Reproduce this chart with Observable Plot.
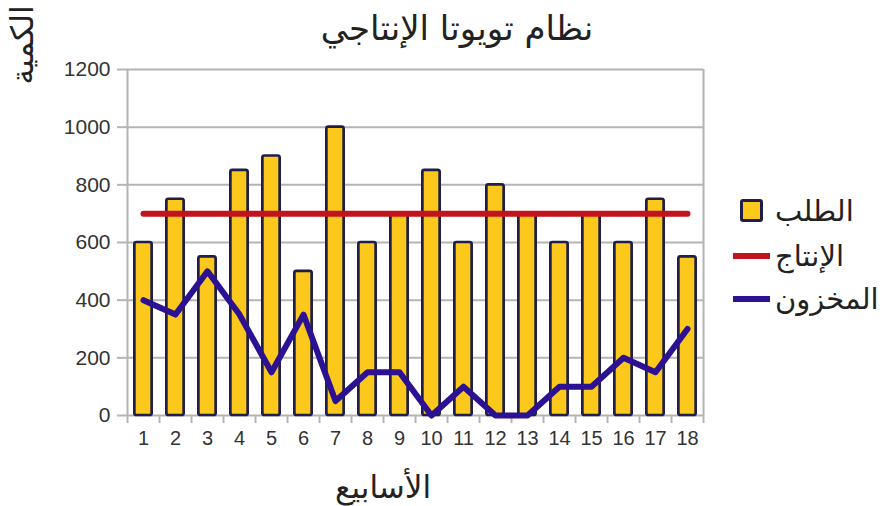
<!DOCTYPE html>
<html><head><meta charset="utf-8">
<script src="https://cdn.jsdelivr.net/npm/d3@7"></script>
<script src="https://cdn.jsdelivr.net/npm/@observablehq/plot@0.6"></script>
<style>
body{margin:0;background:#fff;}
#wrap{position:relative;width:895px;height:506px;font-family:"DejaVu Sans",sans-serif;}
.t{position:absolute;white-space:nowrap;color:#222;transform:translate(-50%,-50%);line-height:1;}
.sw{position:absolute;box-sizing:border-box;}
</style></head><body><div id="wrap"></div>
<script>
const weeks = [1,2,3,4,5,6,7,8,9,10,11,12,13,14,15,16,17,18];
const demand = [600,750,550,850,900,500,1000,600,700,850,600,800,700,600,700,600,750,550];
const production = [700,700,700,700,700,700,700,700,700,700,700,700,700,700,700,700,700,700];
const inventory = [400,350,500,350,150,350,50,150,150,0,100,0,0,100,100,200,150,300];
const yTicks = [0,200,400,600,800,1000,1200];
const seriesNames = ["الطلب","الإنتاج","المخزون"];
const seriesColors = ["#fcc81c","#c3141e","#2c1192"];
const title = "نظام تويوتا الإنتاجي";
const xLabel = "الأسابيع";
const yLabel = "الكمية";

const rows = weeks.map((w,i)=>({week:w,demand:demand[i],production:production[i],inventory:inventory[i]}));
const bounds = weeks.map(w=>w-0.5).concat([weeks[weeks.length-1]+0.5]);
const grey = "#b4b4b4";

const chart = Plot.plot({
  width:895, height:506,
  marginLeft:127, marginRight:192, marginTop:69, marginBottom:91,
  style:{fontFamily:"'Liberation Sans', Arial, sans-serif", fontSize:"21px", color:"#333", background:"transparent"},
  x:{domain:[0.5,18.5]},
  y:{domain:[0,1200]},
  marks:[
    Plot.ruleY(yTicks,{stroke:grey,strokeWidth:2}),
    Plot.ruleX([bounds[0], bounds[bounds.length-1]],{stroke:grey,strokeWidth:2}),
    Plot.axisY(yTicks,{tickSize:10,tickPadding:7,stroke:grey,strokeWidth:2,label:null,fill:"#333",fontSize:21,tickFormat:d=>String(d)}),
    Plot.axisX(bounds,{tickSize:8,stroke:grey,strokeWidth:2,text:null,label:null}),
    Plot.axisX(weeks,{tickSize:0,tickPadding:15,label:null,fill:"#333",fontSize:20,tickFormat:d=>String(d)}),
    Plot.rectY(rows,{x1:d=>d.week-0.27,x2:d=>d.week+0.27,y1:0,y2:"demand",fill:seriesColors[0],stroke:"#1f1e48",strokeWidth:2.7,rx:2}),
    Plot.line(rows,{x:"week",y:"production",stroke:seriesColors[1],strokeWidth:6}),
    Plot.line(rows,{x:"week",y:"inventory",stroke:seriesColors[2],strokeWidth:6,strokeLinejoin:"round"})
  ]
});
const wrap = document.getElementById("wrap");
wrap.appendChild(chart);
chart.style.position="absolute"; chart.style.left="0"; chart.style.top="0";

function addText(txt,x,y,size,extra){
  const d=document.createElement("div");
  d.className="t"; d.textContent=txt; d.dir="rtl";
  d.style.left=x+"px"; d.style.top=y+"px"; d.style.fontSize=size+"px";
  if(extra) d.style.transform=extra;
  wrap.appendChild(d); return d;
}
addText(title,457,28,34);
addText(xLabel,383,487,31);
addText(yLabel,22,45,31,"translate(-50%,-50%) rotate(-90deg)");

// legend
const ly=[211,256,299];
seriesNames.forEach((n,i)=>{
  const t=document.createElement("div");
  t.className="t"; t.textContent=n; t.dir="rtl";
  t.style.transform="translate(0,-50%)";
  t.style.left="775px"; t.style.top=ly[i]+"px"; t.style.fontSize="29px";
  wrap.appendChild(t);
  const s=document.createElement("div"); s.className="sw";
  if(i===0){
    s.style.left="740px"; s.style.top=(ly[i]-12)+"px"; s.style.width="23px"; s.style.height="23px";
    s.style.background=seriesColors[0]; s.style.border="3px solid #1f1e48"; s.style.borderRadius="3px";
  } else {
    s.style.left="733px"; s.style.top=(ly[i]-3)+"px"; s.style.width="37px"; s.style.height="6px";
    s.style.background=seriesColors[i];
  }
  wrap.appendChild(s);
});
</script></body></html>
